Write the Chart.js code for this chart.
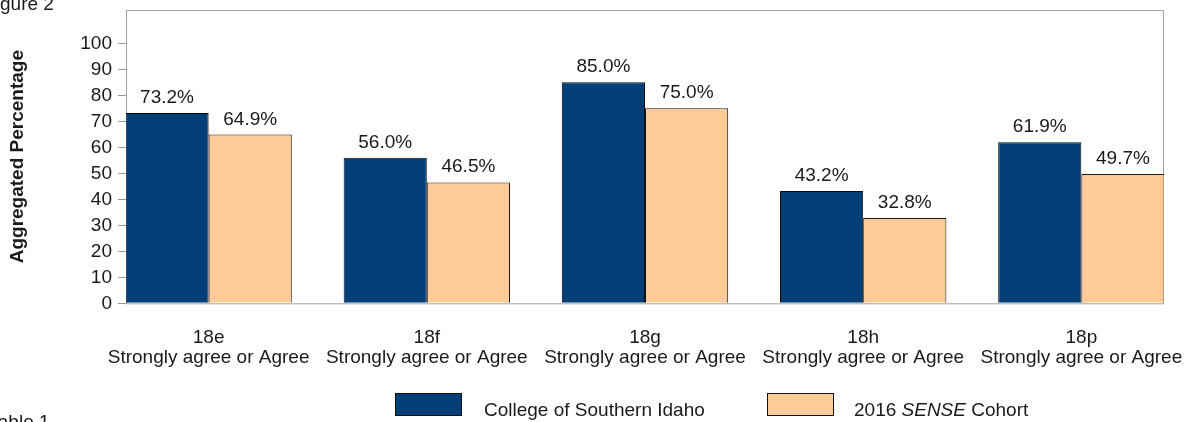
<!DOCTYPE html>
<html>
<head>
<meta charset="utf-8">
<script src="https://cdn.jsdelivr.net/npm/chart.js@4/dist/chart.umd.min.js"></script>
<style>
  html, body { margin: 0; padding: 0; background: #fff; }
  #wrap { position: relative; width: 1187px; height: 422px; }
</style>
</head>
<body>
<div id="wrap"><canvas id="figChart" width="1187" height="422"></canvas></div>
<script>
// data
const itemCodes = ['18e', '18f', '18g', '18h', '18p'];
const answerText = 'Strongly agree or Agree';
const collegeValues = [73.2, 56.0, 85.0, 43.2, 61.9];
const cohortValues = [64.9, 46.5, 75.0, 32.8, 49.7];
const yTicks = [0, 10, 20, 30, 40, 50, 60, 70, 80, 90, 100];

const BLUE = '#023f78';
const PEACH = '#fecb98';
const FONT = '"Liberation Sans", Arial, sans-serif';

Chart.defaults.font.family = FONT;
Chart.defaults.font.size = 19;
Chart.defaults.color = '#1a1a1a';

// grey frame round the plot area
const framePlugin = {
    id: 'frame',
    beforeDatasetsDraw(chart) {
        const a = chart.chartArea;
        const ctx = chart.ctx;
        ctx.save();
        ctx.strokeStyle = '#a3a3a3';
        ctx.lineWidth = 1;
        ctx.strokeRect(a.left + 0.5, a.top + 0.5, a.right - a.left - 1, a.bottom - a.top);
        ctx.restore();
    }
};

// percentages above each bar
const valueLabels = {
    id: 'valueLabels',
    afterDatasetsDraw(chart) {
        const ctx = chart.ctx;
        ctx.save();
        ctx.font = '19px ' + FONT;
        ctx.fillStyle = '#1a1a1a';
        ctx.textAlign = 'center';
        ctx.textBaseline = 'alphabetic';
        chart.data.datasets.forEach((ds, di) => {
            chart.getDatasetMeta(di).data.forEach((bar, i) => {
                ctx.fillText(ds.data[i].y.toFixed(1) + '%', bar.x, bar.y - 10);
            });
        });
        ctx.restore();
    }
};

// captions + legend (legend has an italic word, so drawn by hand)
const extras = {
    id: 'extras',
    afterDraw(chart) {
        const ctx = chart.ctx;
        ctx.save();
        ctx.fillStyle = '#1a1a1a';
        ctx.textBaseline = 'alphabetic';
        ctx.font = '19px ' + FONT;
        ctx.fillText('Figure 2', -15.8, 9.5);
        ctx.fillText('Table 1', -11.7, 428);

        ctx.lineWidth = 1;
        ctx.strokeStyle = '#111';
        ctx.fillStyle = BLUE;
        ctx.fillRect(395.5, 393.5, 66, 22);
        ctx.strokeRect(395.5, 393.5, 66, 22);
        ctx.fillStyle = PEACH;
        ctx.fillRect(767.5, 393.5, 66, 22);
        ctx.strokeRect(767.5, 393.5, 66, 22);

        ctx.fillStyle = '#1a1a1a';
        ctx.fillText('College of Southern Idaho', 484, 416);
        let x = 854;
        ctx.fillText('2016 ', x, 416);
        x += ctx.measureText('2016 ').width;
        ctx.font = 'italic 19px ' + FONT;
        ctx.fillText('SENSE', x, 416);
        x += ctx.measureText('SENSE').width;
        ctx.font = '19px ' + FONT;
        ctx.fillText(' Cohort', x, 416);
        ctx.restore();
    }
};

const toPoints = vals => vals.map((v, i) => ({ x: i, y: v }));

new Chart(document.getElementById('figChart'), {
    type: 'bar',
    data: {
        datasets: [{
            label: 'College of Southern Idaho',
            data: toPoints(collegeValues),
            backgroundColor: BLUE,
            borderColor: '#0a0a0a',
            borderWidth: 1
        }, {
            label: '2016 SENSE Cohort',
            data: toPoints(cohortValues),
            backgroundColor: PEACH,
            borderColor: '#1a1a1a',
            borderWidth: 1
        }]
    },
    options: {
        responsive: false,
        animation: false,
        categoryPercentage: 0.7624,
        barPercentage: 1,
        layout: { padding: { left: 0, top: 10, right: 23, bottom: 43.7 } },
        plugins: {
            legend: { display: false },
            tooltip: { enabled: false }
        },
        scales: {
            x: {
                type: 'linear',
                min: -0.3787,
                max: 4.3787,
                offset: false,
                grid: { display: false, drawTicks: false },
                border: { display: false },
                afterBuildTicks: s => { s.ticks = itemCodes.map((c, i) => ({ value: i })); },
                afterFit: s => {
                    s.height = 75;
                    s.paddingLeft = 0;
                    s.paddingRight = 0;
                },
                ticks: {
                    autoSkip: false,
                    maxRotation: 0,
                    padding: 24,
                    font: { size: 19, lineHeight: 1.07 },
                    callback: v => [itemCodes[v], answerText]
                }
            },
            y: {
                min: 0,
                max: 112.8,
                afterBuildTicks: s => { s.ticks = yTicks.map(v => ({ value: v })); },
                afterFit: s => {
                    s.width = 126;
                    s.paddingTop = 0;
                    s.paddingBottom = 0;
                },
                grid: {
                    drawOnChartArea: false,
                    tickLength: 8,
                    tickColor: '#999'
                },
                border: { display: false },
                ticks: { padding: 6 },
                title: {
                    display: true,
                    text: 'Aggregated Percentage',
                    font: { size: 19, weight: 'bold' },
                    padding: { top: 6.6, bottom: 0 }
                }
            }
        }
    },
    plugins: [framePlugin, valueLabels, extras]
});
</script>
</body>
</html>
